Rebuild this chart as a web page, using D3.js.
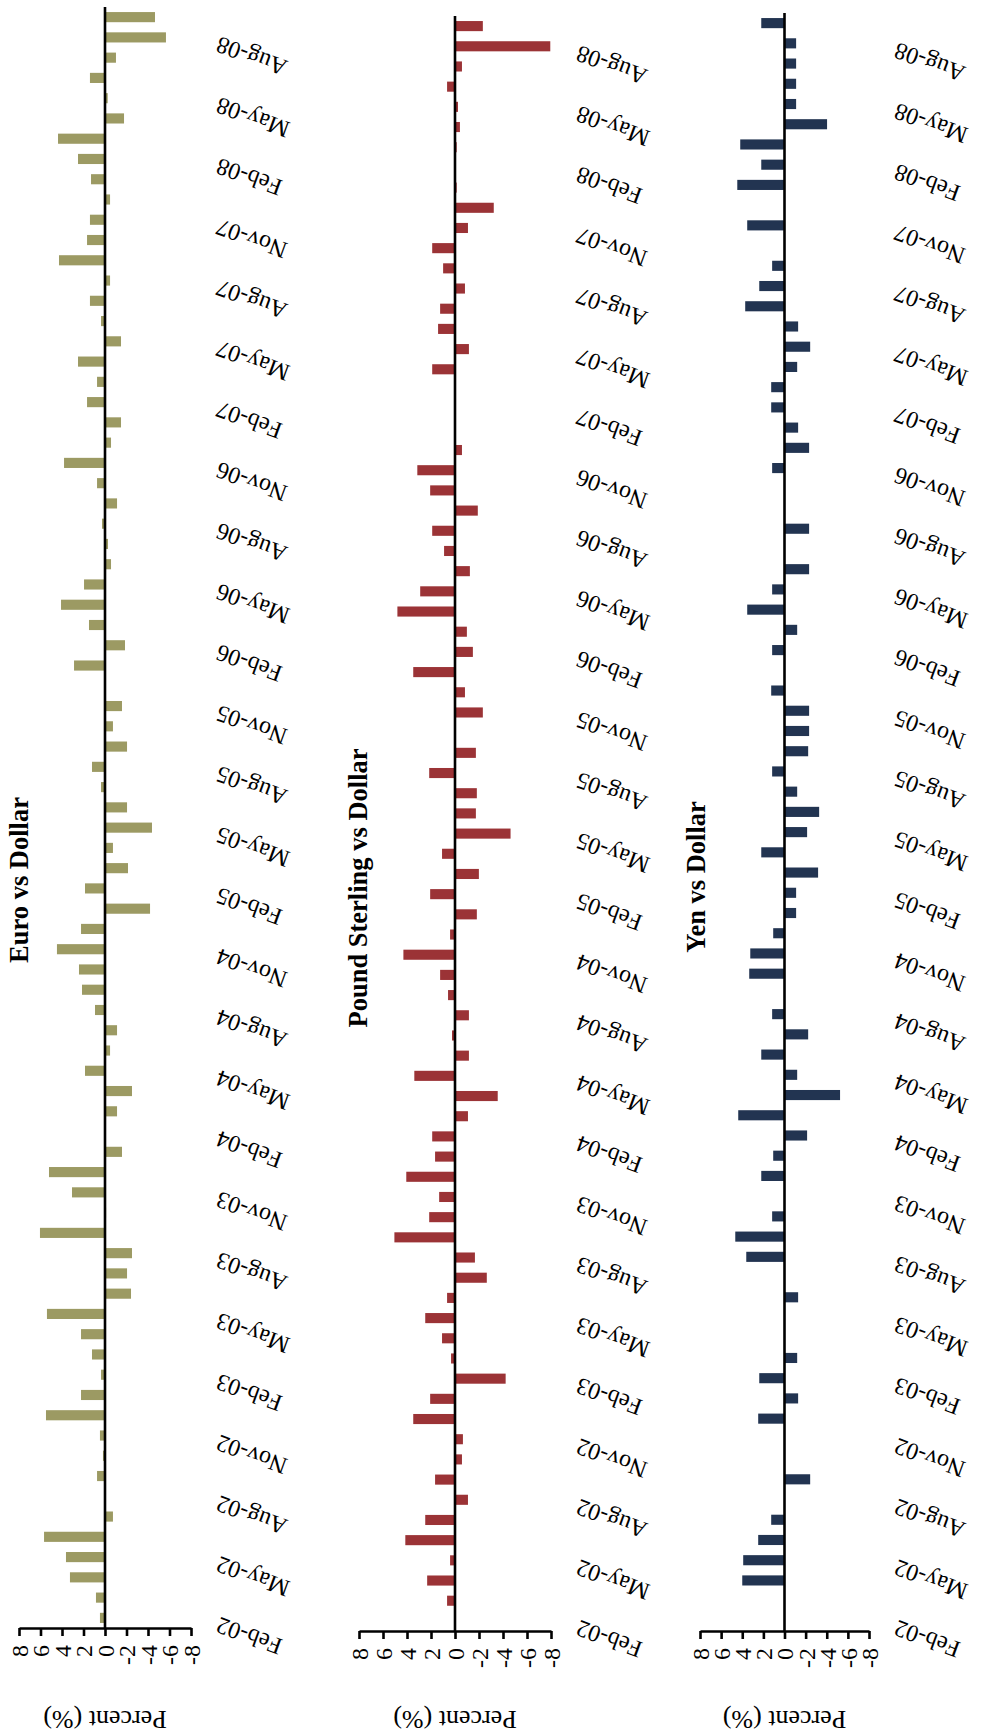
<!DOCTYPE html>
<html>
<head>
<meta charset="utf-8">
<script src="https://cdn.jsdelivr.net/npm/d3@7"></script>
<style>
  html, body { margin: 0; padding: 0; background: #ffffff; }
  svg { display: block; }
  text { font-family: "Liberation Serif", "Times New Roman", serif; fill: #000; }
</style>
</head>
<body>
<svg id="chart" width="983" height="1734"></svg>
<script>
// ---- Data (chronological, Feb-02 .. Sep-08) ----
const months = d3.timeMonth.range(new Date(2002, 1, 1), new Date(2008, 9, 1)).map(d3.timeFormat("%b-%y"));

const euroValues = [0.47, 0.84, 3.26, 3.63, 5.67, -0.74, 0, 0.74, 0.19, 0.47,
  5.49, 2.23, 0.37, 1.21, 2.23, 5.40, -2.42, -2.05, -2.51, 6.05,
  -0.1, 3.07, 5.21, -1.58, 0, -1.12, -2.51, 1.86, -0.47, -1.12,
  0.93, 2.14, 2.42, 4.47, 2.23, -4.19, 1.86, -2.14, -0.74, -4.37,
  -2.05, 0.37, 1.21, -2.05, -0.74, -1.58, 0, 2.88, -1.86, 1.49,
  4.09, 1.95, -0.56, -0.28, 0.28, -1.12, 0.74, 3.81, -0.56, -1.49,
  1.67, 0.74, 2.51, -1.49, 0.37, 1.40, -0.47, 4.28, 1.67, 1.40,
  -0.47, 1.30, 2.51, 4.37, -1.77, -0.25, 1.40, -1.02, -5.67, -4.65];

const poundValues = [null, 0.66, 2.32, 0.41, 4.14, 2.48, -1.08, 1.66, -0.58, -0.66,
  3.48, 2.07, -4.22, 0.33, 1.08, 2.48, 0.66, -2.65, -1.66, 5.05,
  2.15, 1.32, 4.06, 1.66, 1.90, -1.08, -3.56, 3.39, -1.16, 0.25,
  -1.16, 0.58, 1.24, 4.30, 0.41, -1.82, 2.07, -1.99, 1.08, -4.63,
  -1.74, -1.82, 2.15, -1.74, 0, -2.32, -0.83, 3.48, -1.49, -0.99,
  4.80, 2.90, -1.24, 0.91, 1.90, -1.90, 2.07, 3.14, -0.58, 0,
  0, 0, 1.90, -1.16, 1.41, 1.24, -0.83, 0.99, 1.90, -1.08,
  -3.23, -0.14, 0, -0.14, -0.41, -0.25, 0.66, -0.58, -7.94, -2.32];

const yenValues = [null, null, 4.00, 3.91, 2.49, 1.26, 0, -2.43, 0, 0,
  2.49, -1.29, 2.39, -1.20, 0, 0, -1.29, 0, 3.62, 4.66,
  1.17, 0, 2.20, 1.07, -2.14, 4.38, -5.26, -1.20, 2.20, -2.24,
  1.17, 0, 3.34, 3.24, 1.07, -1.10, -1.10, -3.18, 2.20, -2.14,
  -3.28, -1.20, 1.17, -2.24, -2.33, -2.33, 1.26, 0, 1.17, -1.20,
  3.53, 1.17, -2.33, 0, -2.33, 0, 0, 1.17, -2.33, -1.29,
  1.26, 1.26, -1.20, -2.43, -1.29, 3.72, 2.39, 1.17, 0, 3.53,
  0, 4.47, 2.20, 4.19, -4.03, -1.10, -1.10, -1.10, -1.10, 2.20];

const tickValues = [8, 6, 4, 2, 0, -2, -4, -6, -8];
const titles = ["Euro vs Dollar", "Pound Sterling vs Dollar", "Yen vs Dollar"];
const axisTitle = "Percent (%)";

// ---- Layout ----
const panels = [
  { title: titles[0], values: euroValues,  color: "#9c9a63", xRange: [19, 191],  yRange: [1628, 7],  titleX: 22,  titleY: 880 },
  { title: titles[1], values: poundValues, color: "#9b3336", xRange: [359, 551], yRange: [1631, 16], titleX: 361, titleY: 888 },
  { title: titles[2], values: yenValues,   color: "#223451", xRange: [700, 869], yRange: [1631, 13], titleX: 699, titleY: 877 }
];

const svg = d3.select("#chart");

panels.forEach(p => {
  const x = d3.scaleLinear().domain([8, -8]).range(p.xRange);
  const y = d3.scaleBand().domain(months).range(p.yRange).paddingInner(0.5).paddingOuter(0.25);
  const g = svg.append("g");
  const yBottom = p.yRange[0], yTop = p.yRange[1];

  const data = months.map((m, i) => ({ m, v: p.values[i] })).filter(d => d.v !== null && d.v !== 0);

  g.selectAll("rect.bar").data(data).enter().append("rect")
    .attr("class", "bar")
    .attr("x", d => Math.min(x(d.v), x(0)))
    .attr("width", d => Math.abs(x(d.v) - x(0)))
    .attr("y", d => y(d.m))
    .attr("height", y.bandwidth())
    .attr("fill", p.color);

  // zero (category) line
  g.append("line")
    .attr("x1", x(0)).attr("x2", x(0))
    .attr("y1", yTop).attr("y2", yBottom)
    .attr("stroke", "#000").attr("stroke-width", 2.6);

  // value axis
  const ax = g.append("g").attr("transform", `translate(0,${yBottom})`)
    .call(d3.axisBottom(x).tickValues(tickValues).tickSize(8).tickSizeOuter(0).tickFormat(d => String(d)));
  ax.select(".domain").attr("stroke", "#000").attr("stroke-width", 2.6);
  ax.selectAll(".tick line").attr("stroke", "#000").attr("stroke-width", 2.6);
  ax.selectAll(".tick text")
    .attr("transform", "rotate(-90)")
    .attr("x", -17).attr("y", 0).attr("dy", "0.35em")
    .attr("text-anchor", "end")
    .style("font-family", "'Liberation Serif', 'Times New Roman', serif")
    .style("font-size", "24px")
    .attr("fill", "#000");

  // month labels (every 3rd)
  const lx = x(-8) + 27;
  g.selectAll("text.month").data(months.filter((m, i) => i % 3 === 0)).enter().append("text")
    .attr("class", "month")
    .attr("transform", m => `translate(${lx},${y(m) + y.bandwidth() / 2 + 4}) rotate(-160)`)
    .attr("text-anchor", "end")
    .attr("dominant-baseline", "middle")
    .style("font-size", "24px")
    .text(m => m);

  // panel title
  g.append("text")
    .attr("transform", `translate(${p.titleX},${p.titleY}) rotate(-90)`)
    .attr("text-anchor", "middle")
    .attr("dominant-baseline", "middle")
    .style("font-size", "26.5px")
    .style("font-weight", "bold")
    .text(p.title);

  // axis title
  g.append("text")
    .attr("transform", `translate(${x(0)},1717) rotate(180)`)
    .attr("text-anchor", "middle")
    .attr("dominant-baseline", "middle")
    .style("font-size", "26px")
    .text(axisTitle);
});
</script>
</body>
</html>
